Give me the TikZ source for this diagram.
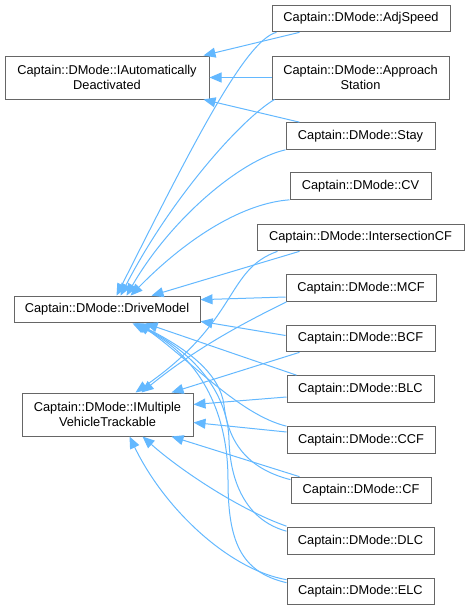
\documentclass[tikz,border=0pt]{standalone}
\usepackage{fontspec}
\setmainfont{Liberation Sans}
\usetikzlibrary{arrows.meta,calc}

\begin{document}
\begin{tikzpicture}[x=0.75pt, y=-0.75pt, >={Triangle[length=9pt, width=7.5pt]},
    cls/.style={draw=boxgray, fill=white, line width=0.75pt, inner sep=0pt, align=center,
        minimum height=20pt, font=\fontsize{9.6}{11.5}\selectfont},
    tall/.style={minimum height=32.25pt},
    inh/.style={->, draw=edgeblue, line width=0.75pt}]
    % Colours of the boxes and the inheritance arrows
    \definecolor{edgeblue}{RGB}{99, 184, 255}
    \definecolor{boxgray}{RGB}{102, 102, 102}

    \useasboundingbox (0,0) rectangle (469,611);

    % Base classes (left column)
    \node[cls, tall, minimum width=153pt] (iad) at (107,77.5) {Captain::DMode::IAutomatically\\Deactivated};
    \node[cls, minimum width=139.5pt] (drv) at (107,309.5) {Captain::DMode::DriveModel};
    \node[cls, tall, minimum width=128.25pt] (imv) at (107.5,414.5) {Captain::DMode::IMultiple\\VehicleTrackable};

    % Derived classes (right column)
    \node[cls, minimum width=133.5pt] (adj) at (361,18.5) {Captain::DMode::AdjSpeed};
    \node[cls, tall, minimum width=132.75pt] (appr) at (360.5,77.5) {Captain::DMode::Approach\\Station};
    \node[cls, minimum width=111.75pt] (stay) at (360.5,136) {Captain::DMode::Stay};
    \node[cls, minimum width=105.75pt] (cv) at (360.5,186) {Captain::DMode::CV};
    \node[cls, minimum width=155.25pt] (icf) at (360.5,237.5) {Captain::DMode::IntersectionCF};
    \node[cls, minimum width=112.5pt] (mcf) at (361,288) {Captain::DMode::MCF};
    \node[cls, minimum width=111.75pt] (bcf) at (360.5,338.5) {Captain::DMode::BCF};
    \node[cls, minimum width=110.25pt] (blc) at (360.5,389) {Captain::DMode::BLC};
    \node[cls, minimum width=111pt] (ccf) at (361,440) {Captain::DMode::CCF};
    \node[cls, minimum width=105pt] (cf) at (361,490.5) {Captain::DMode::CF};
    \node[cls, minimum width=110.25pt] (dlc) at (360.5,541) {Captain::DMode::DLC};
    \node[cls, minimum width=110.25pt] (elc) at (360.5,591.5) {Captain::DMode::ELC};

    % Edges into IAutomaticallyDeactivated
    \draw[inh] ($(adj.south west)+(28,0)$) -- ($(iad.north east)+(-6,0)$);
    \draw[inh] (appr.west) -- (iad.east);
    \draw[inh] ($(stay.north west)+(14,0)$) -- ($(iad.south east)+(-6,0)$);

    % Edges into DriveModel
    \draw[inh] ($(adj.south west)+(5,0)$) .. controls (245,40) and (190,150) .. ($(drv.north west)+(103,0)$);
    \draw[inh] ($(appr.south west)+(3,0)$) .. controls (240,120) and (170,200) .. ($(drv.north west)+(107,0)$);
    \draw[inh] (stay.south west) .. controls (240,160) and (170,220) .. ($(drv.north west)+(113,0)$);
    \draw[inh] (cv.south west) .. controls (245,203) and (190,235) .. ($(drv.north west)+(117,0)$);
    \draw[inh] ($(icf.south west)+(43,0)$) -- ($(drv.north west)+(138,0)$);
    \draw[inh] ($(mcf.west)+(0,9)$) -- ($(drv.north east)+(0,4)$);
    \draw[inh] ($(bcf.west)+(0,-3)$) -- ($(drv.south east)+(0,-2)$);
    \draw[inh] ($(blc.north west)+(10,0)$) -- ($(drv.south west)+(132,0)$);
    \draw[inh] (ccf.north west) .. controls (240,415) and (190,360) .. ($(drv.south west)+(125,0)$);
    \draw[inh] ($(cf.north west)+(0,3)$) .. controls (245,468) and (228,440) .. (224,405)
        .. controls (220,375) and (190,350) .. ($(drv.south west)+(123,0)$);
    \draw[inh] ($(dlc.north west)+(0,4)$) .. controls (245,520) and (230,480) .. (229,440)
        .. controls (228,390) and (190,350) .. ($(drv.south west)+(121,0)$);
    \draw[inh] ($(elc.north west)+(0,5)$) .. controls (240,572) and (228,540) .. (228,480)
        .. controls (228,400) and (190,350) .. ($(drv.south west)+(119,0)$);

    % Edges into IMultipleVehicleTrackable
    \draw[inh] ($(icf.south west)+(21,0)$) .. controls (225,270) and (240,320) .. ($(imv.north west)+(114,0)$);
    \draw[inh] ($(mcf.south west)+(1,0)$) .. controls (250,320) and (200,345) .. ($(imv.north west)+(120,0)$);
    \draw[inh] ($(bcf.south west)+(14,0)$) -- ($(imv.north west)+(150,0)$);
    \draw[inh] ($(blc.west)+(0,8)$) -- ($(imv.east)+(0,-10)$);
    \draw[inh] ($(ccf.west)+(0,-8)$) -- ($(imv.east)+(0,8)$);
    \draw[inh] ($(cf.north west)+(9,0)$) -- ($(imv.south west)+(150,0)$);
    \draw[inh] ($(dlc.north west)+(0,-1)$) .. controls (240,510) and (180,470) .. ($(imv.south west)+(121,0)$);
    \draw[inh] ($(elc.north west)+(0,2)$) .. controls (230,570) and (165,510) .. ($(imv.south west)+(108,0)$);

\end{tikzpicture}
\end{document}
